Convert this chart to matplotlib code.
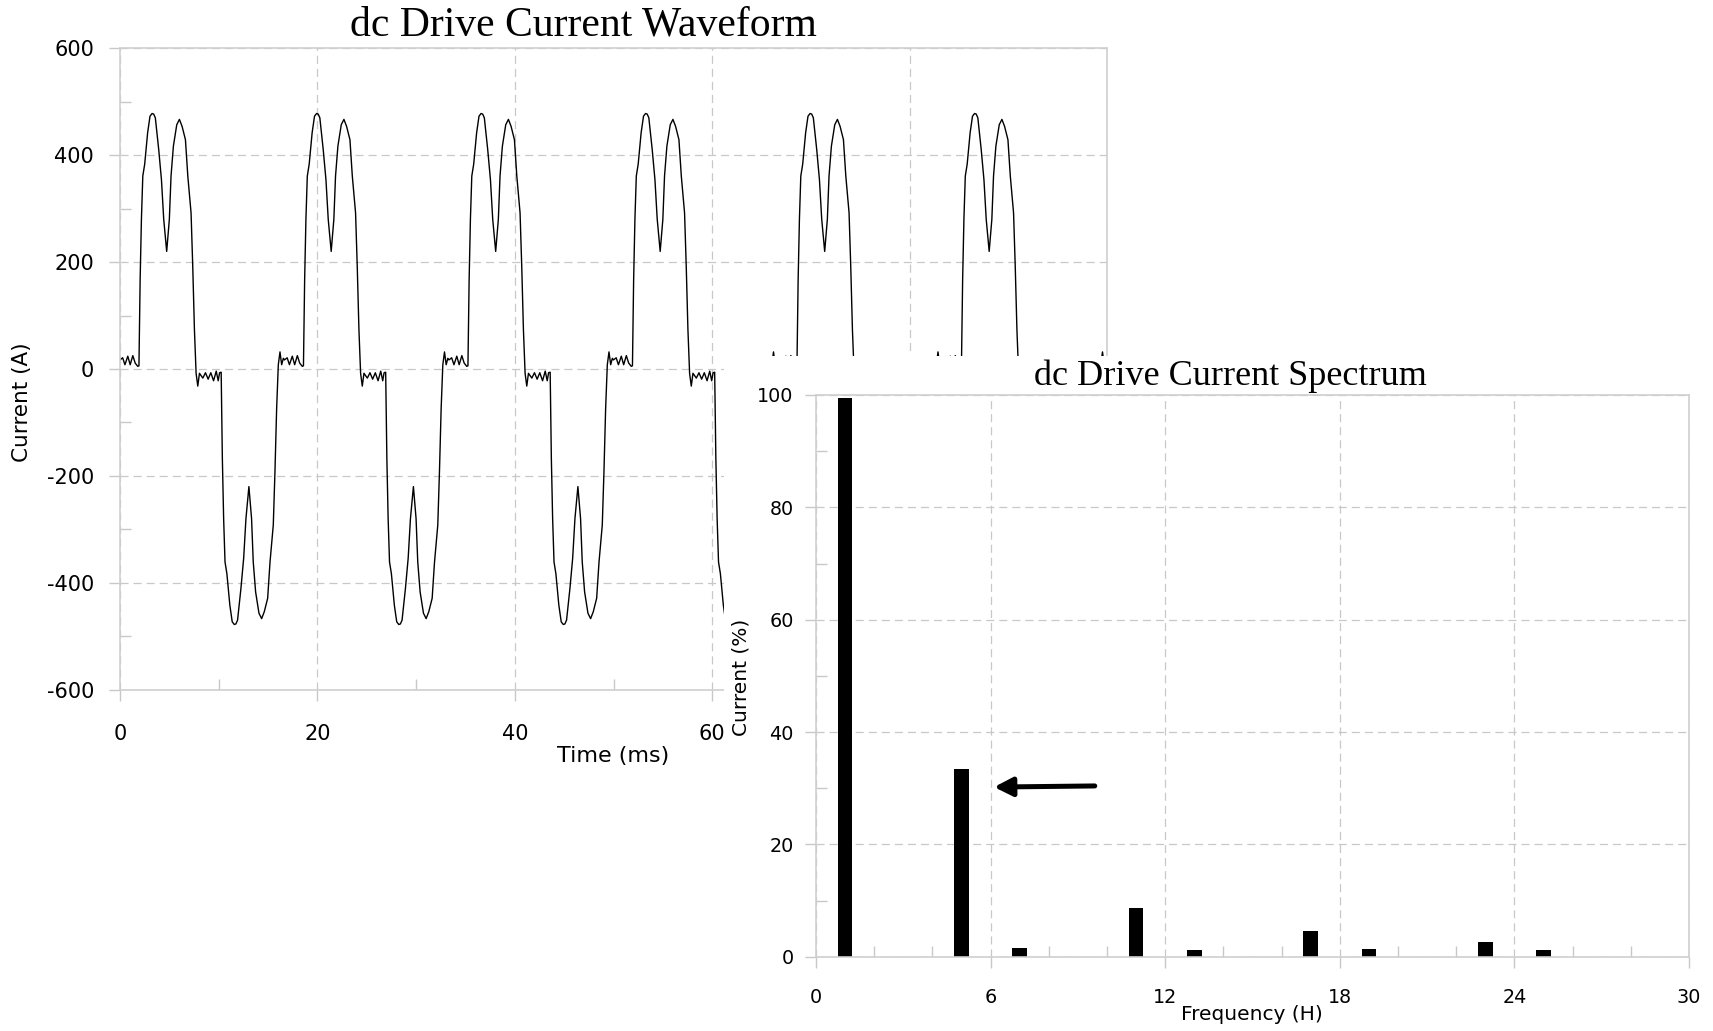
import matplotlib
matplotlib.use('Agg')
import matplotlib.pyplot as plt
import numpy as np
from matplotlib.patches import Rectangle
from matplotlib.ticker import MultipleLocator

# ---------------- data ----------------
# one 60 Hz cycle of the drive input current (time in ms, current in A)
cycle_t = [0.00, 0.27, 0.50, 0.79, 1.03, 1.30, 1.54, 1.80, 1.92, 2.04, 2.17, 2.31, 2.50,
           2.80, 3.04, 3.25, 3.41, 3.58, 3.92, 4.20, 4.43, 4.73, 5.00, 5.17, 5.41, 5.75,
           6.02, 6.29, 6.63, 6.87, 7.20, 7.37, 7.54, 7.71, 7.88, 8.05, 8.39, 8.66, 8.93,
           9.20, 9.48, 9.75, 9.95, 10.09, 10.25, 10.37, 10.50, 10.64, 10.83, 11.13, 11.37,
           11.58, 11.74, 11.91, 12.25, 12.53, 12.76, 13.06, 13.33, 13.50, 13.74, 14.08,
           14.35, 14.62, 14.96, 15.20, 15.53, 15.70, 15.87, 16.04, 16.21, 16.38, 16.55]
cycle_a = [17, 21, 8, 24, 8, 25, 11, 5, 6, 167, 280, 361, 383,
           442, 473, 478, 477, 470, 411, 354, 280, 220, 280, 361, 417, 457,
           467, 454, 429, 361, 292, 192, 74, -8, -32, -8, -17, -7, -19,
           -7, -22, -4, -22, -7, -6, -167, -280, -361, -383, -442, -473,
           -478, -477, -470, -411, -354, -280, -220, -280, -361, -417, -457,
           -467, -454, -429, -361, -292, -192, -74, 8, 32, 8, 20]
cycle_starts = [0.0, 16.667, 33.333, 50.0, 66.667, 83.333]
end_t, end_a = 100.0, 17

wave_xticks = [0, 20, 40, 60, 80, 100]
wave_yticks = [-600, -400, -200, 0, 200, 400, 600]

harmonic_order = [1, 5, 7, 11, 13, 17, 19, 23, 25]
harmonic_pct = [99.4, 33.4, 1.6, 8.7, 1.2, 4.5, 1.3, 2.7, 1.2]
spec_xticks = [0, 6, 12, 18, 24, 30]
spec_yticks = [0, 20, 40, 60, 80, 100]

# ---------------- style ----------------
plt.rcParams['axes.unicode_minus'] = False
plt.rcParams['lines.scale_dashes'] = False
plt.rcParams['font.family'] = ['DejaVu Sans']

W, H = 1713, 1031
fig = plt.figure(figsize=(W / 100, H / 100), dpi=100)
fig.patch.set_facecolor('white')


def rect(l, t, r, b):
    return [l / W, 1 - b / H, (r - l) / W, (b - t) / H]


GRID = '#c8c8c8'
SPINE = '#cfcfcf'
DASH = (0, (5.8, 3.6))


def style_axes(ax, labelsize, xpad, ypad):
    for s in ax.spines.values():
        s.set_color(SPINE)
        s.set_linewidth(1.2)
    ax.set_axisbelow(True)
    ax.grid(True, which='major', color=GRID, linestyle=DASH, linewidth=0.9)
    ax.tick_params(which='major', direction='out', length=8, width=1, color=GRID,
                   labelsize=labelsize, labelcolor='black')
    ax.tick_params(axis='x', which='major', pad=xpad)
    ax.tick_params(axis='y', which='major', pad=ypad)
    ax.tick_params(which='minor', direction='in', length=8, width=1, color=GRID)


# ---------------- waveform chart ----------------
ax1 = fig.add_axes(rect(120, 48.3, 1107, 689.7))
ax1.set_zorder(0)
t_all = np.concatenate([s + np.array(cycle_t) for s in cycle_starts] + [np.array([end_t])])
a_all = np.concatenate([np.array(cycle_a, dtype=float) for _ in cycle_starts] + [np.array([end_a])])
ax1.plot(t_all, a_all, color='black', lw=1.0)
ax1.set_xlim(0, 100)
ax1.set_ylim(-600, 600)
ax1.set_xticks(wave_xticks)
ax1.set_xticklabels([str(v) for v in wave_xticks])
ax1.set_yticks(wave_yticks)
ax1.set_yticklabels([str(v) for v in wave_yticks])
ax1.xaxis.set_minor_locator(MultipleLocator(10))
ax1.yaxis.set_minor_locator(MultipleLocator(100))
style_axes(ax1, 15, 16.5, 10.8)

# white panel of the spectrum chart, laid over the waveform chart
fig.add_artist(Rectangle((724 / W, 0), 1 - 724 / W, 1 - 356 / H, transform=fig.transFigure,
                         facecolor='white', edgecolor='none', zorder=1))

# ---------------- spectrum chart ----------------
ax2 = fig.add_axes(rect(816, 395, 1689, 956.7))
ax2.set_zorder(2)
ax2.bar(harmonic_order, harmonic_pct, width=0.5, color='black', edgecolor='none')
ax2.set_xlim(0, 30)
ax2.set_ylim(0, 100)
ax2.set_xticks(spec_xticks)
ax2.set_xticklabels([str(v) for v in spec_xticks])
ax2.set_yticks(spec_yticks)
ax2.set_yticklabels([str(v) for v in spec_yticks])
ax2.xaxis.set_minor_locator(MultipleLocator(2))
ax2.yaxis.set_minor_locator(MultipleLocator(10))
style_axes(ax2, 13.8, 14.4, 8.1)
ax2.annotate('', xy=(6.12, 30.2), xytext=(9.58, 30.4),
             arrowprops=dict(arrowstyle='-|>,head_length=0.55,head_width=0.28',
                             lw=3.6, color='black', shrinkA=0, shrinkB=0,
                             mutation_scale=20))

# ---------------- texts ----------------
def ftext(x, y, s, **kw):
    t = fig.text(x / W, 1 - y / H, s, **kw)
    t.set_zorder(3)
    return t

ftext(583, 35, 'dc Drive Current Waveform', ha='center', va='baseline',
      fontsize=30, family=['Liberation Serif', 'DejaVu Serif'])
ftext(22, 402, 'Current (A)', ha='center', va='center', rotation=90, fontsize=15.5)
ftext(613, 756, 'Time (ms)', ha='center', va='center', fontsize=16)

ftext(1230, 385, 'dc Drive Current Spectrum', ha='center', va='baseline',
      fontsize=26, family=['Liberation Serif', 'DejaVu Serif'])
ftext(741, 677, 'Current (%)', ha='center', va='center', rotation=90, fontsize=14.5)
ftext(1252, 1015, 'Frequency (H)', ha='center', va='center', fontsize=14.5)

fig.savefig('out.png', dpi=100, facecolor='white')
